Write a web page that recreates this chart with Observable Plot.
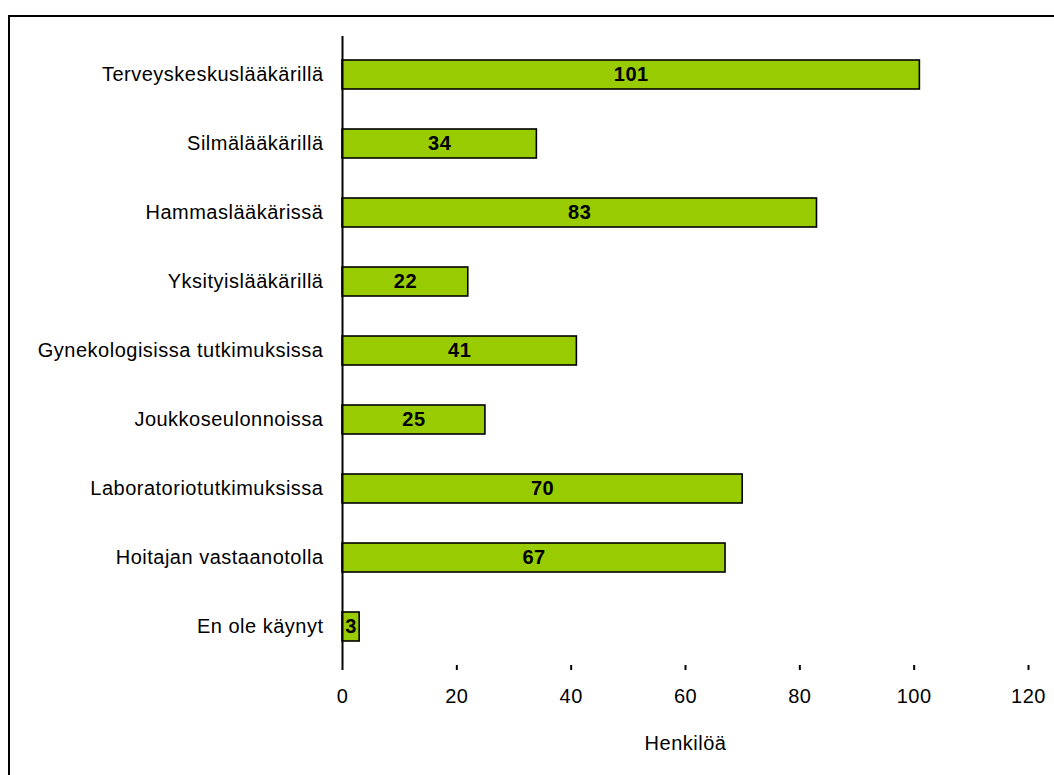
<!DOCTYPE html>
<html>
<head>
<meta charset="utf-8">
<script src="https://cdn.jsdelivr.net/npm/d3@7"></script>
<script src="https://cdn.jsdelivr.net/npm/@observablehq/plot@0.6"></script>
<style>
  html, body { margin: 0; padding: 0; background: #fff; }
  #wrap { position: relative; width: 1054px; height: 775px; overflow: hidden; }
  #frame { position: absolute; left: 8px; top: 15px; width: 1100px; height: 800px;
           border-left: 2px solid #000; border-top: 2px solid #000; box-sizing: border-box; pointer-events: none; }
  #chart { position: absolute; left: 0; top: 0; }
  #chart svg text { letter-spacing: 0.5px; }
</style>
</head>
<body>
<div id="wrap">
  <div id="chart"></div>
  <div id="frame"></div>
</div>
<script>
// Missä käynyt – henkilöiden määrä
const categories = [
  "Terveyskeskuslääkärillä",
  "Silmälääkärillä",
  "Hammaslääkärissä",
  "Yksityislääkärillä",
  "Gynekologisissa tutkimuksissa",
  "Joukkoseulonnoissa",
  "Laboratoriotutkimuksissa",
  "Hoitajan vastaanotolla",
  "En ole käynyt"
];
const counts = [101, 34, 83, 22, 41, 25, 70, 67, 3];
const xTicks = [0, 20, 40, 60, 80, 100, 120];
const xLabel = "Henkilöä";

const data = categories.map((c, i) => ({category: c, value: counts[i]}));

const font = "'Liberation Sans', Arial, sans-serif";
const fs = 20;

const chart = Plot.plot({
  width: 1054,
  height: 775,
  marginLeft: 342,
  marginRight: 26,
  marginTop: 36,
  marginBottom: 110,
  style: {fontFamily: font, fontSize: fs + "px", color: "#000", background: "transparent"},
  x: {domain: [0, 120], ticks: xTicks},
  y: {domain: categories, paddingInner: 0.585, paddingOuter: 0.2925},
  marks: [
    Plot.barX(data, {
      x: "value", y: "category",
      fill: "#99cc00", stroke: "#000", strokeWidth: 1.6
    }),
    Plot.text(data, {
      x: d => d.value / 2, y: "category", text: d => String(d.value),
      fontWeight: "bold", fontSize: fs, fill: "#000"
    }),
    Plot.ruleX([0], {stroke: "#000", strokeWidth: 2}),
    Plot.ruleY([0], {stroke: "#000", strokeWidth: 2, x1: 0, x2: 120}),
    Plot.axisX({
      ticks: xTicks, tickSize: 5, tickPadding: 18, stroke: "#000", strokeWidth: 2,
      label: null, fontSize: fs
    }),
    Plot.axisY({tickSize: 0, tickPadding: 19, label: null, fontSize: fs}),
    Plot.text([xLabel], {
      frameAnchor: "bottom", dy: 84, text: d => d, fontSize: fs, fill: "#000"
    })
  ]
});

document.getElementById("chart").appendChild(chart);
</script>
</body>
</html>
